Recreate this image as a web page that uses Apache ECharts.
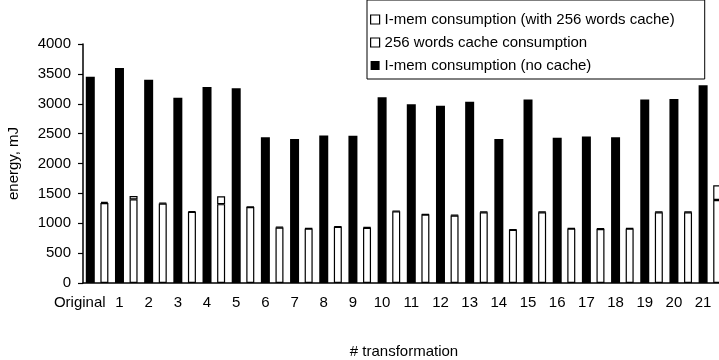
<!DOCTYPE html>
<html>
<head>
<meta charset="utf-8">
<script src="https://cdn.jsdelivr.net/npm/echarts@6/dist/echarts.min.js"></script>
<style>
  html, body { margin: 0; padding: 0; background: #fff; }
  #chart { width: 719px; height: 360px; }
</style>
</head>
<body>
<div id="chart"></div>
<script>
// Transformation labels (one group per transformation)
const transformations = ['Original', '1', '2', '3', '4', '5', '6', '7', '8', '9', '10',
  '11', '12', '13', '14', '15', '16', '17', '18', '19', '20', '21'];

// Energy in mJ
const imemNoCache = [3450, 3600, 3400, 3100, 3280, 3260, 2440, 2410, 2470, 2465, 3110,
  2990, 2965, 3035, 2410, 3070, 2430, 2450, 2440, 3070, 3080, 3310];
const imemWithCache = [1340, 1400, 1330, 1190, 1320, 1270, 930, 910, 940, 925, 1200,
  1145, 1130, 1185, 890, 1185, 910, 905, 910, 1185, 1185, 1390];
const cacheConsumption = [20, 55, 15, 12, 130, 10, 12, 10, 12, 10, 10,
  10, 10, 10, 10, 10, 10, 10, 10, 10, 10, 245];

const yTicks = { min: 0, max: 4000, interval: 500 };

// Each transformation takes two slots on the axis: the no-cache bar, then the cached stack.
const slots = [];
const noCacheData = [], withCacheData = [], cacheData = [];
transformations.forEach((t, i) => {
  slots.push(t);
  noCacheData.push(imemNoCache[i]); withCacheData.push('-'); cacheData.push('-');
  slots.push('');
  noCacheData.push('-'); withCacheData.push(imemWithCache[i]); cacheData.push(cacheConsumption[i]);
});

const FONT = '"Liberation Sans", Arial, sans-serif';
const chart = echarts.init(document.getElementById('chart'), null, { renderer: 'canvas' });

const whiteStyle = { color: '#fff', borderColor: '#000', borderWidth: 1.2 };

chart.setOption({
  animation: false,
  backgroundColor: '#fff',
  grid: { left: 83, right: -6, top: 44, bottom: 77, containLabel: false, outerBoundsMode: 'none' },
  legend: {
    left: 367, top: 0,
    orient: 'vertical',
    backgroundColor: '#fff',
    borderColor: '#000', borderWidth: 1,
    padding: [12, 30, 6, 3],
    itemWidth: 9, itemHeight: 9, itemGap: 8,
    textStyle: { fontFamily: FONT, fontSize: 15, color: '#000' },
    data: [
      { name: 'I-mem consumption (with 256 words cache)', icon: 'rect', itemStyle: whiteStyle },
      { name: '256 words cache consumption', icon: 'rect', itemStyle: whiteStyle },
      { name: 'I-mem consumption (no cache)', icon: 'rect', itemStyle: { color: '#000' } }
    ]
  },
  xAxis: {
    type: 'category',
    data: slots,
    boundaryGap: true,
    name: '# transformation',
    nameLocation: 'middle',
    nameGap: 61,
    nameTextStyle: { fontFamily: FONT, fontSize: 15, color: '#000' },
    axisLine: { lineStyle: { color: '#000', width: 1.5 } },
    axisTick: { interval: 0, length: 4, lineStyle: { color: '#000', width: 1.2 } },
    axisLabel: {
      interval: 0, margin: 12,
      fontFamily: FONT, fontSize: 15, color: '#000',
      formatter: (v) => v === 'Original' ? '{o|Original}' : v,
      rich: { o: { fontFamily: FONT, fontSize: 15, color: '#000', padding: [0, 21, 0, 0] } }
    },
    splitLine: { show: false }
  },
  yAxis: {
    type: 'value',
    min: yTicks.min, max: yTicks.max, interval: yTicks.interval,
    name: 'energy, mJ',
    nameLocation: 'middle',
    nameGap: 62,
    nameRotate: 90,
    nameTextStyle: { fontFamily: FONT, fontSize: 15, color: '#000' },
    axisLine: { show: true, lineStyle: { color: '#000', width: 1.5 } },
    axisTick: { show: true, length: 5, lineStyle: { color: '#000', width: 1.2 } },
    axisLabel: {
      margin: 12, fontFamily: FONT, fontSize: 15, color: '#000',
      formatter: (v) => String(v)
    },
    splitLine: { show: false }
  },
  series: [
    {
      name: 'I-mem consumption (with 256 words cache)',
      type: 'bar', stack: 'cached',
      data: withCacheData,
      barWidth: 8, barGap: '-100%',
      itemStyle: whiteStyle
    },
    {
      name: '256 words cache consumption',
      type: 'bar', stack: 'cached',
      data: cacheData,
      barWidth: 8, barGap: '-100%',
      itemStyle: whiteStyle
    },
    {
      name: 'I-mem consumption (no cache)',
      type: 'bar',
      data: noCacheData,
      barWidth: 9, barGap: '-100%',
      itemStyle: { color: '#000' }
    }
  ]
});
</script>
</body>
</html>
